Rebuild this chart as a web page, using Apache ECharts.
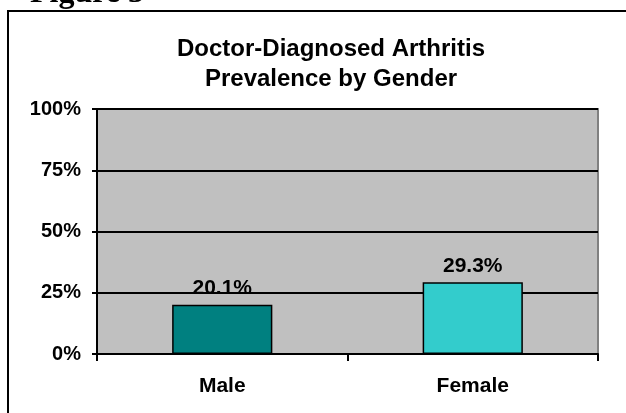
<!DOCTYPE html>
<html>
<head>
<meta charset="utf-8">
<script src="https://cdn.jsdelivr.net/npm/echarts@6/dist/echarts.min.js"></script>
<style>
  html, body { margin: 0; padding: 0; background: #fff; }
  #chart { width: 626px; height: 413px; }
</style>
</head>
<body>
<div id="chart"></div>
<script>
// data
const categories = ["Male", "Female"];
const prevalence = [20.1, 29.3];
const barColors = ["#008080", "#33CCCC"];
const yTicks = { min: 0, max: 100, step: 25 };

const chart = echarts.init(document.getElementById("chart"));

const font = "'Liberation Sans', Arial, sans-serif";

chart.setOption({
  animation: false,
  graphic: [
    // outer frame
    {
      type: "rect",
      shape: { x: 8, y: 11, width: 700, height: 500 },
      style: { fill: "none", stroke: "#000", lineWidth: 2 },
      z: 0
    },
    // cut-off caption above the frame
    {
      type: "text",
      style: {
        x: 30,
        y: -6,
        text: "Figure 3",
        verticalAlign: "middle",
        font: "bold 32px 'Liberation Serif', 'Times New Roman', serif",
        fill: "#000"
      }
    }
  ],
  title: {
    text: "Doctor-Diagnosed Arthritis\nPrevalence by Gender",
    left: 326,
    top: 29,
    textAlign: "center",
    textStyle: {
      fontFamily: font,
      fontWeight: "bold",
      fontSize: 24,
      lineHeight: 30,
      color: "#000"
    }
  },
  grid: {
    left: 97,
    right: 28,
    top: 109,
    bottom: 59,
    show: true,
    backgroundColor: "#C0C0C0",
    borderColor: "#808080",
    borderWidth: 2
  },
  xAxis: {
    type: "category",
    data: categories,
    axisLine: { lineStyle: { color: "#000", width: 2 } },
    axisTick: { show: true, alignWithLabel: false, length: 7, lineStyle: { color: "#000", width: 2 } },
    axisLabel: {
      margin: 22,
      fontFamily: font,
      fontWeight: "bold",
      fontSize: 21,
      color: "#000"
    }
  },
  yAxis: {
    type: "value",
    min: yTicks.min,
    max: yTicks.max,
    interval: yTicks.step,
    axisLine: { show: true, lineStyle: { color: "#000", width: 2 } },
    axisTick: { show: true, length: 5, lineStyle: { color: "#000", width: 2 } },
    splitLine: { show: true, lineStyle: { color: "#000", width: 2 } },
    axisLabel: {
      margin: 16,
      formatter: "{value}%",
      fontFamily: font,
      fontWeight: "bold",
      fontSize: 20,
      color: "#000"
    }
  },
  series: [
    {
      type: "bar",
      barWidth: "40%",
      data: prevalence.map((v, i) => ({
        value: v,
        itemStyle: { color: barColors[i] }
      })),
      itemStyle: { borderColor: "#000", borderWidth: 1.5 },
      label: {
        show: true,
        position: "top",
        distance: 6,
        formatter: (p) => p.value.toFixed(1) + "%",
        fontFamily: font,
        fontWeight: "bold",
        fontSize: 21,
        color: "#000"
      }
    }
  ]
});
</script>
</body>
</html>
